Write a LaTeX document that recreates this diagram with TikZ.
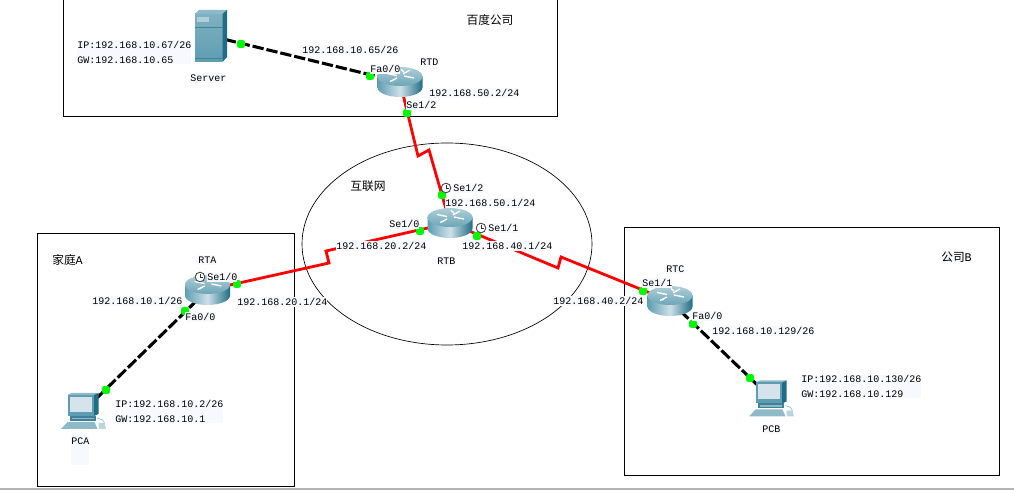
\documentclass[tikz,border=0pt]{standalone}
\usepackage{fontspec}
\setmainfont{Liberation Mono}
\newfontfamily\cjk{Noto Sans CJK SC}
\definecolor{lblbg}{HTML}{F7F9FE}
\definecolor{linkgreen}{HTML}{00F800}
\definecolor{teal1}{HTML}{3F8197}
\definecolor{teal2}{HTML}{5E9DB1}
\definecolor{teal3}{HTML}{8DB9C8}
\definecolor{teal4}{HTML}{D5E4EB}
\definecolor{teal5}{HTML}{1F6D84}
\tikzset{
  lbltext/.style={anchor=west,inner sep=0pt,fill=lblbg,text=black,font=\fontsize{7.5}{11.25}\selectfont,align=left},
  lbl/.style={lbltext,text height=7pt,text depth=1pt},
  title/.style={inner sep=0pt,text=black,font=\fontsize{8.8}{11}\selectfont},
  frame/.style={draw=black,line width=0.7pt},
  serial/.style={draw=red,line width=2.1pt,line join=miter},
  ether/.style={draw=black,line width=2.3pt,dash pattern=on 8.5pt off 2.2pt},
  dot/.style={fill=linkgreen,draw=none,minimum size=5.8pt,inner sep=0pt,rectangle,rounded corners=1.5pt},
  dev/.style={inner sep=0pt,draw=none,minimum width=33pt,minimum height=23pt},
  routericon/.pic={
    \path[left color=teal2,right color=teal5,middle color=teal4!90!teal3,shading angle=90]
      (-22.5,-5.5) -- (-22.5,5.5) arc[start angle=180,end angle=0,x radius=22.5,y radius=9.5] -- (22.5,-5.5) -- cycle;
    \path[top color=teal3!70!white,bottom color=teal2!70!teal3] (0,-5.5) ellipse[x radius=22.5,y radius=9.5];
    \draw[white,line width=1pt] (-13,-8.5) -- (-3,-6.5) (4,-6) -- (14,-4) (-10,-0.5) -- (-3,-4) (3,-8) -- (10,-12) (1,-12.5) -- (4,-10) (-5,-3) -- (-8,-1);
  },
  pcicon/.pic={
    \fill[teal3] (-22.5,18) -- (-16,11) -- (11,11) -- (14,18) -- cycle;
    \fill[teal1] (-14,5) rectangle (12,10);
    \fill[teal3] (-12,6.8) rectangle (10,8.4);
    \fill[teal3] (-16,-16) -- (-12,-18) -- (15,-18) -- (10.5,-16) -- cycle;
    \fill[teal2] (-16,-16) rectangle (10.5,5);
    \fill[teal5] (10.5,-16) -- (15,-18) -- (15,3) -- (10.5,5) -- cycle;
    \fill[teal4] (-14,-14) rectangle (8.5,1);
    \draw[teal3,line width=0.5pt] (14,7) -- (19,9) -- (21,12);
    \fill[teal3!60!white] (15,12) -- (21,12) -- (22.5,18) -- (15,18) -- cycle;
  },
  servericon/.pic={
    \path[top color=teal2!80!white,bottom color=teal2] (-16,-22) rectangle (11.5,26);
    \fill[teal3] (-16,-22) -- (-12,-26) -- (16,-26) -- (11.5,-22) -- cycle;
    \fill[teal5] (11.5,-22) -- (16,-26) -- (16,21) -- (11.5,26) -- cycle;
    \fill[teal3!70!white] (-14,-19) rectangle (-2,-14);
    \draw[teal1,line width=0.3pt] (-16,-9) -- (11.5,-9) (-16,22) -- (11.5,22);
  },
  clockicon/.pic={
    \draw[fill=white,draw=black!70,line width=0.7pt] (0,0) circle[radius=4.8];
    \draw[black!80,line width=0.6pt] (0,-3.4) -- (0,0) -- (2.8,0);
  }
}
\begin{document}
\begin{tikzpicture}[x=0.75pt,y=-0.75pt]
\useasboundingbox (0,0) rectangle (1014,491);
% device anchors
\node[dev] (rtd) at (400,82) {};
\node[dev] (rtb) at (450,223) {};
\node[dev] (rta) at (207.5,290) {};
\node[dev] (rtc) at (670,301) {};
\node[dev] (server) at (211,36) {};
\node[dev] (pca) at (83.5,411) {};
\node[dev] (pcb) at (771.5,398.5) {};
% kinks of the serial links
\coordinate (dba) at (418,156);
\coordinate (dbb) at (429,150);
\coordinate (aba) at (329,263);
\coordinate (abb) at (326,251);
\coordinate (bca) at (558,268);
\coordinate (bcb) at (561,257);
% frames and cloud
\draw[black!30,line width=0.8pt] (0,489) -- (1014,489);
\draw[frame] (63,0) -- (63,116) -- (557,116) -- (557,0);
\draw[frame] (37,233) rectangle (294,486.5);
\draw[frame] (624,227) rectangle (999,475);
\draw[black,line width=0.5pt] (447,244) ellipse[x radius=145,y radius=101];
% links
\draw[ether] (server.center) -- (rtd.center);
\draw[ether] (rta.center) -- (pca.center);
\draw[ether] (rtc.center) -- (pcb.center);
\draw[serial] (rtd.center) -- (dba) -- (dbb) -- (rtb.center);
\draw[serial] (rta.center) -- (aba) -- (abb) -- (rtb.center);
\draw[serial] (rtb.center) -- (bca) -- (bcb) -- (rtc.center);
% icons
\pic at (rtd) {routericon};
\pic at (rtb) {routericon};
\pic at (rta) {routericon};
\pic at (rtc) {routericon};
\pic at (server) {servericon};
\pic at (pca) {pcicon};
\pic at (pcb) {pcicon};
% link lights
\node[dot] (d1) at (241,44) {};
\node[dot] (d2) at (370,76) {};
\node[dot] (d3) at (407,113) {};
\node[dot] (d4) at (442,195) {};
\node[dot] (d5) at (420,231) {};
\node[dot] (d6) at (477,236) {};
\node[dot] (d7) at (237,284) {};
\node[dot] (d8) at (185,311) {};
\node[dot] (d9) at (106,390) {};
\node[dot] (d10) at (643,291) {};
\node[dot] (d11) at (693,324) {};
\node[dot] (d12) at (750,378) {};
% clocks
\pic at (446,188) {clockicon};
\pic at (481,228) {clockicon};
\pic at (200,277) {clockicon};
% titles
\node[title] (t1) at (490,20) {\cjk 百度公司};
\node[title] (t2) at (368,186) {\cjk 互联网};
\node[title,anchor=west] (t3) at (52,260) {\cjk 家庭\rmfamily A};
\node[title,anchor=west,fill=lblbg] (t4) at (941,257) {\cjk 公司\rmfamily B};
% labels
\node[lbltext] (l1) at (77,52.5) {IP:192.168.10.67/26\\GW:192.168.10.65\phantom{xxx}};
\node[lbl] (l2) at (190,78) {Server};
\node[lbl] (l3) at (302,50) {192.168.10.65/26};
\node[lbl] (l4) at (370,69) {Fa0/0};
\node[lbl] (l5) at (420,62) {RTD};
\node[lbl] (l6) at (429,93) {192.168.50.2/24};
\node[lbl] (l7) at (406,105) {Se1/2};
\node[lbl] (l8) at (453,188) {Se1/2};
\node[lbl] (l9) at (445,203) {192.168.50.1/24};
\node[lbl] (l10) at (389,224) {Se1/0};
\node[lbl] (l11) at (488,228) {Se1/1};
\node[lbl] (l12) at (336,246) {192.168.20.2/24};
\node[lbl] (l13) at (462,246) {192.168.40.1/24};
\node[lbl] (l14) at (437,261) {RTB};
\node[lbl] (l15) at (198,260) {RTA};
\node[lbl] (l16) at (207,277) {Se1/0};
\node[lbl] (l17) at (92,301) {192.168.10.1/26};
\node[lbl] (l18) at (237,302) {192.168.20.1/24};
\node[lbl] (l19) at (185,317) {Fa0/0};
\node[lbltext] (l20) at (115,411.5) {IP:192.168.10.2/26\\GW:192.168.10.1\phantom{xxx}};
\node[lbl,anchor=north west,text depth=15pt] (l21) at (71,435) {PCA};
\node[lbl] (l22) at (666,269) {RTC};
\node[lbl] (l23) at (642,283) {Se1/1};
\node[lbl] (l24) at (553,301) {192.168.40.2/24};
\node[lbl] (l25) at (692,316) {Fa0/0};
\node[lbl] (l26) at (712,331) {192.168.10.129/26};
\node[lbltext] (l27) at (801,386.5) {IP:192.168.10.130/26\\GW:192.168.10.129\phantom{xxx}};
\node[lbl] (l28) at (762,429) {PCB};
\end{tikzpicture}
\end{document}
